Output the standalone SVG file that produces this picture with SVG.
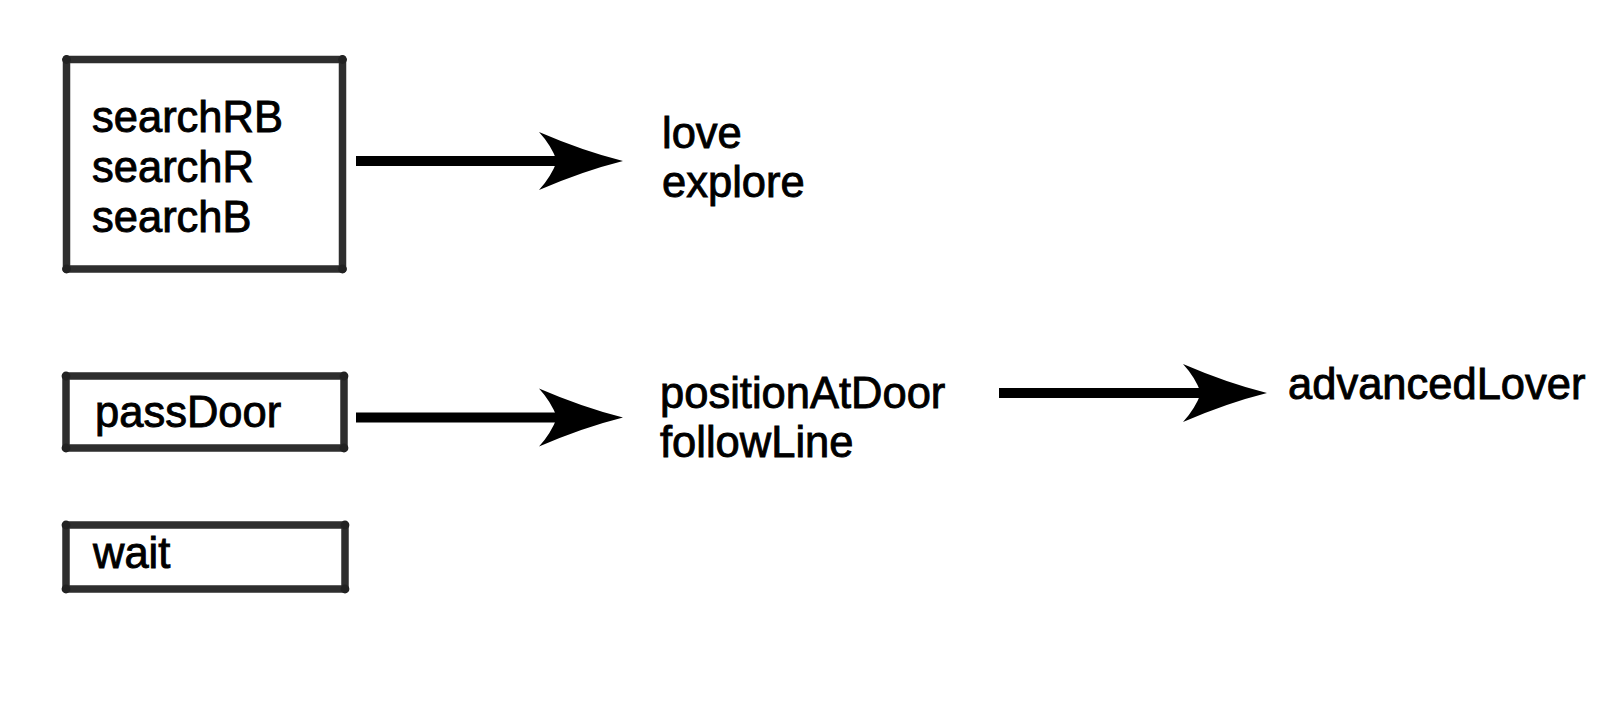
<svg xmlns="http://www.w3.org/2000/svg" width="1609" height="704" viewBox="0 0 1609 704">
<defs>
<style>
.box line{stroke:#2e2e2e;stroke-width:7.5;stroke-linecap:round}
.box circle{fill:#222}
.t{font-family:"Liberation Sans",Arial,sans-serif;font-size:43.5px;fill:#000;stroke:#000;stroke-width:0.9}
.shaft{stroke:#000;stroke-width:10}
.head{fill:#000}
</style>
<path id="ah" d="M0 0 Q-40 -10 -84 -29 Q-72 -16 -66 0 Q-72 16 -84 29 Q-40 10 0 0 Z"/>
</defs>
<rect width="1609" height="704" fill="#fff"/>
<g id="node-search" class="box">
<line x1="66.5" y1="59.5" x2="342.5" y2="59.5"/>
<line x1="66.5" y1="269" x2="342.5" y2="269"/>
<line x1="66.5" y1="59.5" x2="66.5" y2="269"/>
<line x1="342.5" y1="59.5" x2="342.5" y2="269"/>
<circle cx="66.5" cy="59.5" r="4.4"/><circle cx="342.5" cy="59.5" r="4.4"/>
<circle cx="66.5" cy="269" r="4.4"/><circle cx="342.5" cy="269" r="4.4"/>
<text class="t" x="92" y="132">searchRB</text>
<text class="t" x="92" y="182">searchR</text>
<text class="t" x="92" y="231.5">searchB</text>
</g>
<g id="node-passDoor" class="box">
<line x1="66" y1="376" x2="344" y2="376"/>
<line x1="66" y1="448" x2="344" y2="448"/>
<line x1="66" y1="376" x2="66" y2="448"/>
<line x1="344" y1="376" x2="344" y2="448"/>
<circle cx="66" cy="376" r="4.4"/><circle cx="344" cy="376" r="4.4"/>
<circle cx="66" cy="448" r="4.4"/><circle cx="344" cy="448" r="4.4"/>
<text class="t" x="95" y="426.5">passDoor</text>
</g>
<g id="node-wait" class="box">
<line x1="66" y1="525" x2="345" y2="525"/>
<line x1="66" y1="589" x2="345" y2="589"/>
<line x1="66" y1="525" x2="66" y2="589"/>
<line x1="345" y1="525" x2="345" y2="589"/>
<circle cx="66" cy="525" r="4.4"/><circle cx="345" cy="525" r="4.4"/>
<circle cx="66" cy="589" r="4.4"/><circle cx="345" cy="589" r="4.4"/>
<text class="t" x="93" y="567.5">wait</text>
</g>
<g id="node-love">
<text class="t" x="662" y="148">love</text>
<text class="t" x="662" y="197">explore</text>
</g>
<g id="node-position">
<text class="t" x="660" y="407.5">positionAtDoor</text>
<text class="t" x="660" y="457">followLine</text>
</g>
<g id="node-advanced">
<text class="t" x="1288" y="398.5">advancedLover</text>
</g>
<g id="connectors">
<line class="shaft" x1="356" y1="161" x2="565" y2="161"/>
<use href="#ah" class="head" transform="translate(623 161)"/>
<line class="shaft" x1="356" y1="417.5" x2="565" y2="417.5"/>
<use href="#ah" class="head" transform="translate(623 417.5)"/>
<line class="shaft" x1="999" y1="393" x2="1210" y2="393"/>
<use href="#ah" class="head" transform="translate(1267 393)"/>
</g>
</svg>
